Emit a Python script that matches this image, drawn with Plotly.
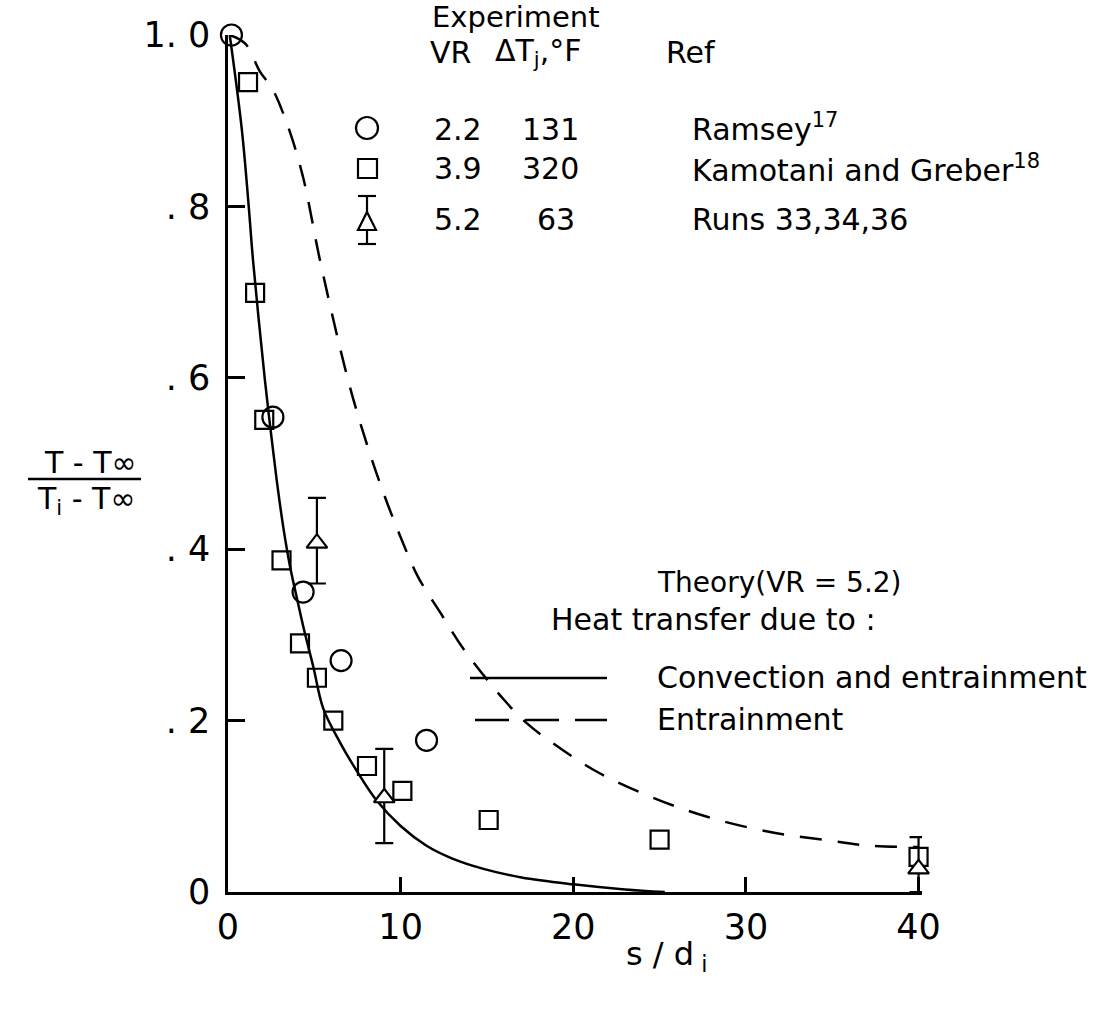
import plotly.graph_objects as go

# ---------------- data ----------------
ramsey_s = [0.2, 2.6, 4.35, 6.55, 11.5]
ramsey_y = [1.0, 0.554, 0.35, 0.27, 0.177]

kamo_s = [1.16, 1.57, 2.1, 3.1, 4.17, 5.15, 6.1, 8.05, 10.1, 15.1, 25.0, 40.0]
kamo_y = [0.945, 0.699, 0.551, 0.387, 0.29, 0.25, 0.2, 0.147, 0.118, 0.084, 0.061, 0.041]

runs_s = [5.15, 9.05, 40.0]
runs_y = [0.407, 0.11, 0.027]
runs_err_plus = [0.053, 0.057, 0.037]
runs_err_minus = [0.047, 0.053, 0.027]

conv_s = [0.1, 0.8, 1.2, 1.45, 2.14, 2.47, 2.82, 3.2, 3.59, 3.98, 4.37, 4.95, 5.52,
          6.5, 7.5, 8.6, 10.0, 11.5, 13.0, 14.8, 17.0, 20.0, 23.0, 25.3]
conv_y = [1.0, 0.89, 0.8, 0.737, 0.597, 0.539, 0.481, 0.426, 0.38, 0.344, 0.309, 0.262, 0.214,
          0.174, 0.14, 0.107, 0.077, 0.054, 0.039, 0.027, 0.017, 0.009, 0.003, 0.0]

entr_s = [0.1, 1.0, 1.86, 2.55, 3.48, 4.35, 5.33, 6.96, 8.1, 9.0, 10.0, 11.0, 12.3, 13.7,
          16.0, 17.3, 18.8, 21.4, 24.5, 27.8, 31.4, 34.6, 37.2, 40.0]
entr_y = [1.0, 0.99, 0.957, 0.938, 0.893, 0.834, 0.737, 0.597, 0.519, 0.466, 0.414, 0.368,
          0.326, 0.282, 0.224, 0.197, 0.174, 0.14, 0.111, 0.0875, 0.07, 0.0607, 0.054, 0.0525]

y_tickvals = [0, 0.2, 0.4, 0.6, 0.8, 1.0]
y_ticktext = ["0", ". 2", ". 4", ". 6", ". 8", "1. 0"]
x_tickvals = [0, 10, 20, 30, 40]
x_ticktext = ["0", "10", "20", "30", "40"]

FONT = "DejaVu Sans, Liberation Sans, sans-serif"
W, H = 1110, 1012
PL, PR, PT, PB = 228, 922, 35, 892


def px(x):
    return (x - PL) / (PR - PL)


def py(y):
    return (PB - y) / (PB - PT)


fig = go.Figure()

fig.add_trace(go.Scatter(x=conv_s, y=conv_y, mode="lines",
                         line=dict(color="black", width=2.5, shape="spline", smoothing=1.0),
                         cliponaxis=False, showlegend=False, hoverinfo="skip"))
fig.add_trace(go.Scatter(x=entr_s, y=entr_y, mode="lines",
                         line=dict(color="black", width=2.5, shape="spline", smoothing=1.0,
                                   dash="22px,16px"),
                         cliponaxis=False, showlegend=False, hoverinfo="skip"))
fig.add_trace(go.Scatter(x=kamo_s, y=kamo_y, mode="markers",
                         marker=dict(symbol="square-open", size=18, color="black",
                                     line=dict(width=2.2, color="black")),
                         cliponaxis=False, showlegend=False))
fig.add_trace(go.Scatter(x=ramsey_s, y=ramsey_y, mode="markers",
                         marker=dict(symbol="circle-open", size=21, color="black",
                                     line=dict(width=2.2, color="black")),
                         cliponaxis=False, showlegend=False))
fig.add_trace(go.Scatter(x=runs_s, y=runs_y, mode="markers",
                         marker=dict(symbol="triangle-up", size=18, color="white",
                                     line=dict(width=2.2, color="black")),
                         error_y=dict(type="data", symmetric=False, array=runs_err_plus,
                                      arrayminus=runs_err_minus, color="black",
                                      thickness=2.2, width=9),
                         cliponaxis=False, showlegend=False))

ann = []


def text(x, y, s, size=30, anchor="left"):
    ann.append(dict(x=px(x), y=py(y), xref="paper", yref="paper", text=s, showarrow=False,
                    xanchor=anchor, yanchor="middle",
                    font=dict(family=FONT, size=size, color="black")))


# Experiment legend
text(430, 17, "Experiment", size=29)
text(428, 52, "VR")
text(493, 52, "ΔT<sub>j</sub>,°F")
text(664, 52, "Ref")
text(432, 129, "2.2")
text(520, 129, "131")
text(690, 127, "Ramsey<sup>17</sup>")
text(432, 168, "3.9")
text(520, 168, "320")
text(690, 168, "Kamotani and Greber<sup>18</sup>")
text(432, 219, "5.2")
text(535, 219, "63")
text(690, 219, "Runs 33,34,36")

# Theory legend
text(655, 582, "Theory(VR = 5.2)", size=28)
text(549, 620, "Heat transfer due to :")
text(655, 677, "Convection and entrainment")
text(655, 719, "Entrainment")

# axis titles
text(666, 956, "s / d<sub> i</sub>", size=32, anchor="center")
text(90, 462, "T - T∞", size=30, anchor="center")
text(86, 500, "T<sub>i</sub> - T∞", size=30, anchor="center")

shapes = []
LW = 2.2
# legend markers
shapes.append(dict(type="circle", xref="paper", yref="paper",
                   x0=px(356), x1=px(378), y0=py(139), y1=py(117),
                   line=dict(color="black", width=LW)))
shapes.append(dict(type="rect", xref="paper", yref="paper",
                   x0=px(358), x1=px(377), y0=py(178), y1=py(159),
                   line=dict(color="black", width=LW)))
tri = "M {a},{b} L {c},{b} L {d},{e} Z".format(a=px(358), b=py(230), c=px(376), d=px(367), e=py(212))
shapes.append(dict(type="path", xref="paper", yref="paper", path=tri,
                   line=dict(color="black", width=LW)))
for (y0, y1) in [(196, 212), (230, 244)]:
    shapes.append(dict(type="line", xref="paper", yref="paper",
                       x0=px(367), x1=px(367), y0=py(y0), y1=py(y1),
                       line=dict(color="black", width=LW)))
for yy in [196, 244]:
    shapes.append(dict(type="line", xref="paper", yref="paper",
                       x0=px(358), x1=px(376), y0=py(yy), y1=py(yy),
                       line=dict(color="black", width=LW)))
# theory legend samples
shapes.append(dict(type="line", xref="paper", yref="paper",
                   x0=px(470), x1=px(607), y0=py(678), y1=py(678),
                   line=dict(color="black", width=2.5)))
shapes.append(dict(type="line", xref="paper", yref="paper",
                   x0=px(475), x1=px(607), y0=py(720), y1=py(720),
                   line=dict(color="black", width=2.5, dash="34px,16px")))
# y-title fraction bar
shapes.append(dict(type="line", xref="paper", yref="paper",
                   x0=px(28), x1=px(141), y0=py(479), y1=py(479),
                   line=dict(color="black", width=2.5)))

fig.update_layout(
    width=W, height=H,
    margin=dict(l=PL, r=W - PR, t=PT, b=H - PB),
    paper_bgcolor="white", plot_bgcolor="white",
    font=dict(family=FONT, color="black"),
    annotations=ann, shapes=shapes, showlegend=False,
)
fig.update_xaxes(range=[0, 40.2], tickvals=x_tickvals, ticktext=x_ticktext,
                 showline=True, linecolor="black", linewidth=2.5,
                 ticks="inside", ticklen=15, tickwidth=2.5, tickcolor="black",
                 showgrid=False, zeroline=False, ticklabelstandoff=2,
                 tickfont=dict(family=FONT, size=35, color="black"))
fig.update_yaxes(range=[0, 1.0], tickvals=y_tickvals, ticktext=y_ticktext,
                 showline=True, linecolor="black", linewidth=2.5,
                 ticks="inside", ticklen=17, tickwidth=2.5, tickcolor="black",
                 showgrid=False, zeroline=False, ticklabelstandoff=8,
                 tickfont=dict(family=FONT, size=35, color="black"))

fig.write_html("out.html")
